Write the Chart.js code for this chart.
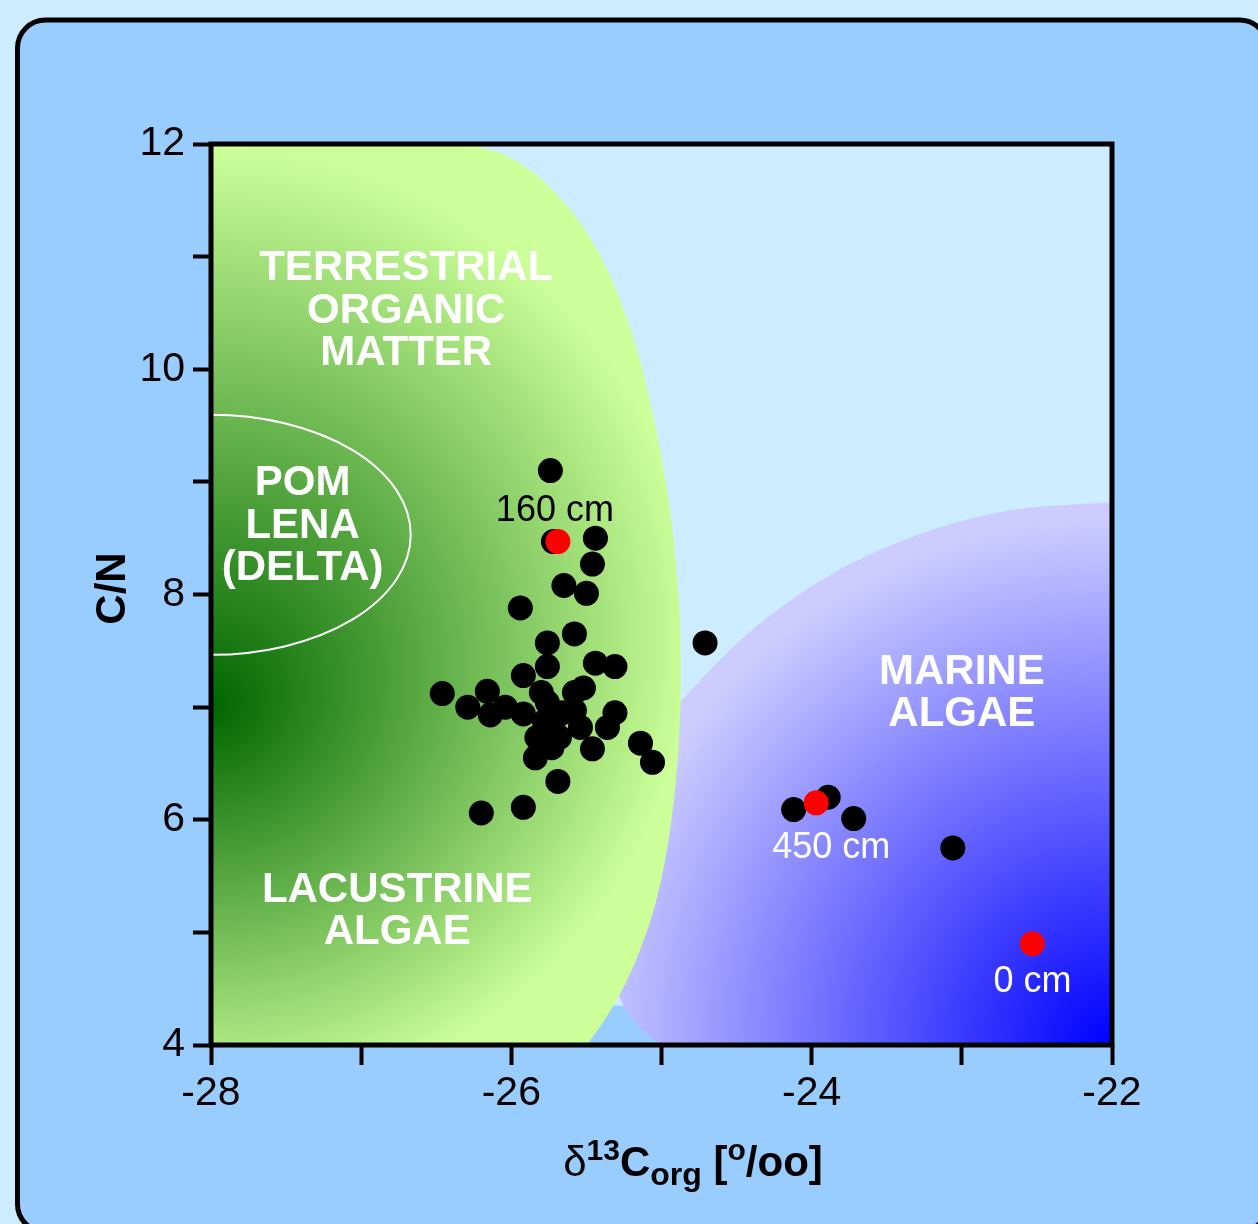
<!DOCTYPE html>
<html>
<head>
<meta charset="utf-8">
<script src="https://cdn.jsdelivr.net/npm/chart.js@4.4.1/dist/chart.umd.min.js"></script>
<style>
  html, body { margin: 0; padding: 0; background: #cdecff; }
  canvas { display: block; }
</style>
</head>
<body>
<canvas id="cnChart" width="1258" height="1224"></canvas>
<script>
/* ------------------ DATA ------------------ */
// core samples: d13C (per mil) and C/N
const sampleD13C = [
    -25.74, -25.44, -25.72, -25.46, -25.65, -25.50, -25.94, -25.76, -25.58, -24.71,
    -25.76, -25.44, -25.31, -25.92, -26.46, -26.16, -25.80, -25.58, -25.52, -26.29,
    -26.14, -26.04, -25.92, -25.76, -25.58, -25.31, -25.54, -25.36, -25.83, -25.72,
    -25.73, -25.84, -25.46, -25.14, -25.06, -25.69, -26.20, -25.92, -25.66, -25.68,
    -25.78, -24.12, -23.89, -23.72, -23.06
];
const sampleCN = [
    9.10, 8.50, 8.47, 8.27, 8.08, 8.01, 7.88, 7.57, 7.65, 7.57,
    7.36, 7.39, 7.36, 7.28, 7.12, 7.14, 7.13, 7.13, 7.17, 7.00,
    6.93, 7.00, 6.94, 7.04, 6.97, 6.95, 6.82, 6.82, 6.73, 6.80,
    6.64, 6.55, 6.63, 6.68, 6.51, 6.34, 6.06, 6.11, 6.95, 6.73,
    6.87, 6.09, 6.20, 6.01, 5.75
];

// highlighted depths
const markedD13C = [-25.69, -23.97, -22.53];
const markedCN = [8.47, 6.15, 4.90];
const markedNames = ['160 cm', '450 cm', '0 cm'];
const markedNameX = [-25.71, -23.87, -22.53];
const markedNameY = [8.745, 5.745, 4.56];

// axes
const xTicks = [-28, -27, -26, -25, -24, -23, -22];
const xTickLabels = ['-28', '', '-26', '', '-24', '', '-22'];
const yTicks = [4, 5, 6, 7, 8, 9, 10, 11, 12];
const yTickLabels = ['4', '', '6', '', '8', '', '10', '', '12'];

// source fields (outlines in data units)
const terrestrialX = [-26.475, -26.275, -26.042, -25.842, -25.663, -25.509, -25.376, -25.263, -25.163, -25.077, -25.003, -24.943,
    -24.903, -24.877, -24.870, -24.884, -24.917, -24.970, -25.043, -25.143, -25.263, -25.390, -25.496, -25.596];
const terrestrialY = [12, 11.991, 11.902, 11.734, 11.503, 11.236, 10.925, 10.57, 10.171, 9.726, 9.238, 8.75,
    8.261, 7.773, 7.24, 6.707, 6.174, 5.686, 5.242, 4.842, 4.487, 4.202, 3.998, 3.794];
const marineX = [-21.913, -22.08, -22.706, -23.312, -23.878, -24.397, -24.837, -25.03, -25.203,
    -25.31, -25.356, -25.343, -25.296, -25.197, -25.01, -24.877];
const marineY = [8.812, 8.812, 8.741, 8.519, 8.172, 7.684, 7.098, 6.76, 6.405,
    5.908, 5.375, 4.842, 4.487, 4.238, 3.998, 3.865];
const pomCenter = [-28, 8.53];
const pomRadius = [1.33, 1.066];

// field names
const fieldNames = [['TERRESTRIAL', 'ORGANIC', 'MATTER'], ['POM', 'LENA', '(DELTA)'], ['LACUSTRINE', 'ALGAE'], ['MARINE', 'ALGAE']];
const fieldNameX = [-26.70, -27.39, -26.76, -23.0];
const fieldNameY = [10.515, 8.605, 5.185, 7.12];

const FONT = "'Liberation Sans', Arial, Helvetica, sans-serif";

/* ------------------ HELPERS ------------------ */
function toPixels(chart, xs, ys) {
    const sx = chart.scales.x, sy = chart.scales.y;
    return xs.map((v, i) => ({ x: sx.getPixelForValue(v), y: sy.getPixelForValue(ys[i]) }));
}

// catmull-rom through the points, continuing the current path
function smoothThrough(ctx, pts) {
    ctx.lineTo(pts[0].x, pts[0].y);
    for (let i = 0; i < pts.length - 1; i++) {
        const p0 = pts[i - 1] || pts[i];
        const p1 = pts[i];
        const p2 = pts[i + 1];
        const p3 = pts[i + 2] || p2;
        ctx.bezierCurveTo(
            p1.x + (p2.x - p0.x) / 6, p1.y + (p2.y - p0.y) / 6,
            p2.x - (p3.x - p1.x) / 6, p2.y - (p3.y - p1.y) / 6,
            p2.x, p2.y
        );
    }
}

/* ------------------ PLUGINS ------------------ */
const backdrop = {
    id: 'backdrop',
    beforeDraw(chart) {
        const ctx = chart.ctx;
        ctx.save();
        ctx.fillStyle = '#cdecff';
        ctx.fillRect(0, 0, chart.width, chart.height);
        ctx.beginPath();
        ctx.roundRect(17.5, 20, 1250, 1212, 28);
        ctx.fillStyle = '#99ccff';
        ctx.fill();
        ctx.lineWidth = 5;
        ctx.strokeStyle = '#000';
        ctx.stroke();
        ctx.restore();
    }
};

const fields = {
    id: 'fields',
    beforeDatasetsDraw(chart) {
        const { ctx, chartArea: a, scales: { x, y } } = chart;
        ctx.save();
        ctx.beginPath();
        ctx.rect(a.left, a.top, a.right - a.left, a.bottom - a.top);
        ctx.clip();

        // light background (lower gap stays panel blue)
        ctx.fillStyle = '#cdecff';
        ctx.fillRect(a.left, a.top, a.right - a.left, y.getPixelForValue(4.35) - a.top);

        // marine field
        const mp = toPixels(chart, marineX, marineY);
        ctx.beginPath();
        ctx.moveTo(mp[0].x, mp[0].y);
        smoothThrough(ctx, mp);
        ctx.lineTo(x.getPixelForValue(-21.9), y.getPixelForValue(3.86));
        ctx.closePath();
        const mx = x.getPixelForValue(-22), my = y.getPixelForValue(4);
        const mg = ctx.createRadialGradient(mx, my, 0, mx, my, x.getPixelForValue(-22) - x.getPixelForValue(-25.5));
        mg.addColorStop(0, '#0000ff');
        mg.addColorStop(1, '#ccccff');
        ctx.fillStyle = mg;
        ctx.fill();

        // terrestrial / lacustrine field
        const tp = toPixels(chart, terrestrialX, terrestrialY);
        ctx.beginPath();
        ctx.moveTo(x.getPixelForValue(-28.1), y.getPixelForValue(12));
        smoothThrough(ctx, tp);
        ctx.lineTo(x.getPixelForValue(-28.1), y.getPixelForValue(3.79));
        ctx.closePath();
        const gx = x.getPixelForValue(-28);
        const gy0 = y.getPixelForValue(7.0), gy1 = y.getPixelForValue(7.7);
        const gg = ctx.createRadialGradient(gx, gy0, 0, gx, gy1, x.getPixelForValue(-24.8) - x.getPixelForValue(-28));
        gg.addColorStop(0, '#006600');
        gg.addColorStop(1, '#ccff99');
        ctx.fillStyle = gg;
        ctx.fill();

        // POM Lena outline
        const cx = x.getPixelForValue(pomCenter[0]), cy = y.getPixelForValue(pomCenter[1]);
        const rx = x.getPixelForValue(pomCenter[0] + pomRadius[0]) - cx;
        const ry = cy - y.getPixelForValue(pomCenter[1] + pomRadius[1]);
        ctx.beginPath();
        ctx.ellipse(cx, cy, rx, ry, 0, 0, Math.PI * 2);
        ctx.strokeStyle = '#ffffff';
        ctx.lineWidth = 2;
        ctx.stroke();

        // field names
        ctx.fillStyle = '#ffffff';
        ctx.font = 'bold 42px ' + FONT;
        ctx.textAlign = 'center';
        ctx.textBaseline = 'middle';
        fieldNames.forEach((lines, i) => {
            const px = x.getPixelForValue(fieldNameX[i]);
            const py = y.getPixelForValue(fieldNameY[i]);
            const lh = 42.5;
            const start = py - (lines.length - 1) * lh / 2;
            lines.forEach((t, j) => ctx.fillText(t, px, start + j * lh));
        });
        ctx.restore();
    },
    afterDatasetsDraw(chart) {
        const { ctx, chartArea: a, scales: { x, y } } = chart;
        ctx.save();
        // depth labels
        ctx.font = '36px ' + FONT;
        ctx.textAlign = 'center';
        ctx.textBaseline = 'middle';
        markedNames.forEach((t, i) => {
            ctx.fillStyle = i === 0 ? '#000000' : '#ffffff';
            ctx.fillText(t, x.getPixelForValue(markedNameX[i]), y.getPixelForValue(markedNameY[i]));
        });

        // frame
        ctx.lineWidth = 5;
        ctx.strokeStyle = '#000';
        ctx.strokeRect(a.left, a.top, a.right - a.left, a.bottom - a.top);

        // y title
        ctx.save();
        ctx.translate(113, (a.top + a.bottom) / 2 - 6);
        ctx.rotate(-Math.PI / 2);
        ctx.font = 'bold 42px ' + FONT;
        ctx.fillStyle = '#000';
        ctx.textAlign = 'center';
        ctx.textBaseline = 'middle';
        ctx.fillText('C/N', 0, 0);
        ctx.restore();

        // x title with super/subscripts
        const parts = [
            { t: '\u03B4', f: '42px ', dy: 0 },
            { t: '13', f: 'bold 30px ', dy: -16 },
            { t: 'C', f: 'bold 42px ', dy: 0 },
            { t: 'org', f: 'bold 32px ', dy: 9 },
            { t: ' [', f: 'bold 42px ', dy: 0 },
            { t: 'o', f: 'bold 30px ', dy: -16 },
            { t: '/oo]', f: 'bold 42px ', dy: 0 }
        ];
        let total = 0;
        parts.forEach(p => { ctx.font = p.f + FONT; p.w = ctx.measureText(p.t).width; total += p.w; });
        let cursor = 693 - total / 2;
        const base = 1176;
        ctx.fillStyle = '#000';
        ctx.textAlign = 'left';
        ctx.textBaseline = 'alphabetic';
        parts.forEach(p => {
            ctx.font = p.f + FONT;
            ctx.fillText(p.t, cursor, base + p.dy);
            cursor += p.w;
        });
        ctx.restore();
    }
};

/* ------------------ CHART ------------------ */
Chart.defaults.font.family = FONT;
Chart.defaults.color = '#000';

new Chart(document.getElementById('cnChart'), {
    type: 'scatter',
    data: {
        datasets: [
            {
                label: 'marked',
                data: markedD13C.map((v, i) => ({ x: v, y: markedCN[i] })),
                backgroundColor: '#ff0000',
                pointRadius: 12.5,
                pointBorderWidth: 0,
                order: 0
            },
            {
                label: 'samples',
                data: sampleD13C.map((v, i) => ({ x: v, y: sampleCN[i] })),
                backgroundColor: '#000000',
                pointRadius: 12.5,
                pointBorderWidth: 0,
                order: 1
            }
        ]
    },
    options: {
        responsive: false,
        animation: false,
        events: [],
        layout: { padding: { left: 0, top: 144, right: 146, bottom: 0 } },
        plugins: {
            legend: { display: false },
            tooltip: { enabled: false }
        },
        scales: {
            x: {
                type: 'linear',
                min: -28,
                max: -22,
                afterBuildTicks: (s) => { s.ticks = xTicks.map(v => ({ value: v })); },
                afterFit: (s) => { s.height = 179; },
                ticks: {
                    font: { size: 41 },
                    padding: 4,
                    maxRotation: 0,
                    autoSkip: false,
                    callback: (v) => xTickLabels[xTicks.indexOf(v)]
                },
                grid: { drawOnChartArea: false, tickLength: 20, tickWidth: 4, tickColor: '#000' },
                border: { display: false }
            },
            y: {
                type: 'linear',
                min: 4,
                max: 12,
                afterBuildTicks: (s) => { s.ticks = yTicks.map(v => ({ value: v })); },
                afterFit: (s) => { s.width = 211; },
                ticks: {
                    font: { size: 41 },
                    padding: 8,
                    autoSkip: false,
                    callback: (v) => yTickLabels[yTicks.indexOf(v)]
                },
                grid: { drawOnChartArea: false, tickLength: 18, tickWidth: 4, tickColor: '#000' },
                border: { display: false }
            }
        }
    },
    plugins: [backdrop, fields]
});
</script>
</body>
</html>
